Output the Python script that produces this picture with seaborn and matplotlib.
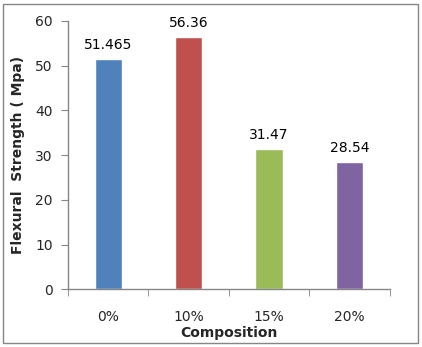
import pandas as pd
import numpy as np

import matplotlib.pyplot as plt
import seaborn as sns
from matplotlib.patches import Rectangle

# Data
compositions = ['0%', '10%', '15%', '20%']
strength = [51.465, 56.36, 31.47, 28.54]
labels = ['51.465', '56.36', '31.47', '28.54']
colors = ['#4F81BD', '#C0504D', '#9BBB59', '#8064A2']

df = pd.DataFrame({'Composition': compositions, 'Strength': strength})

sns.set_style('white')
plt.rcParams['font.family'] = ['DejaVu Sans']

fig = plt.figure(figsize=(4.22, 3.47), dpi=100)
ax = fig.add_axes([0.161, 0.166, 0.763, 0.774])

sns.barplot(data=df, x='Composition', y='Strength', hue='Composition',
            palette=colors, width=0.34, legend=False, saturation=1, ax=ax)

for c, lab in zip(ax.containers, labels):
    ax.bar_label(c, labels=[lab], padding=5, fontsize=10, color='black')

ax.set_ylim(0, 60)
ax.set_yticks(np.arange(0, 61, 10))
ax.set_xlim(-0.5, 3.5)

# category separators as tick marks like the spreadsheet chart
ax.set_xticks(np.arange(-0.5, 4, 1), minor=True)
ax.tick_params(axis='x', which='major', length=0, pad=15, labelsize=10)
ax.tick_params(axis='x', which='minor', length=5, color='#868686', direction='out')
ax.tick_params(axis='y', length=5, color='#868686', direction='out', labelsize=10, pad=6)
ax.xaxis.set_ticks_position('bottom')
ax.yaxis.set_ticks_position('left')

for side in ['top', 'right']:
    ax.spines[side].set_visible(False)
for side in ['left', 'bottom']:
    ax.spines[side].set_color('#868686')
    ax.spines[side].set_linewidth(1)

ax.set_xlabel('Composition', fontsize=10, fontweight='bold', labelpad=1)
ax.set_ylabel('Flexural  Strength ( Mpa)', fontsize=10, fontweight='bold', labelpad=7)

# chart border
fig.patches.append(Rectangle((0.008, 0.012), 0.983, 0.976, transform=fig.transFigure,
                             fill=False, edgecolor='#868686', linewidth=1))

fig.savefig('out.png', dpi=100)
